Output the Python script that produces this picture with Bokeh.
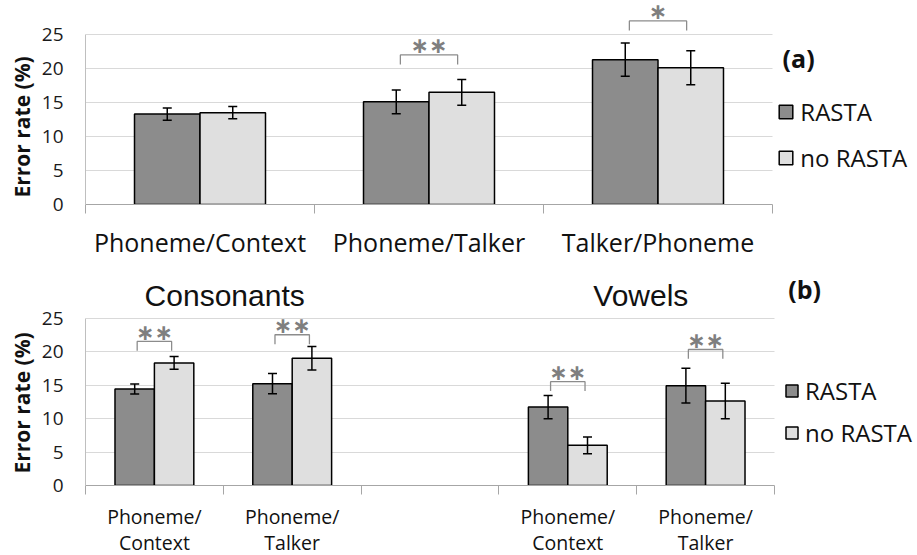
import math
from bokeh.plotting import figure
from bokeh.models import (ColumnDataSource, FixedTicker, Whisker, TeeHead, Legend,
                          LegendItem, LabelSet, Label, Range1d, Title)
from bokeh.layouts import column
from bokeh.core.properties import value
from bokeh.embed import file_html
from bokeh.resources import INLINE

nan = float("nan")

# ---------------- data ----------------
series = ["RASTA", "no RASTA"]
series_colors = ["#8c8c8c", "#dfdfdf"]

a_categories = ["Phoneme/Context", "Phoneme/Talker", "Talker/Phoneme"]
a_rasta = [13.3, 15.1, 21.3]
a_rasta_err = [0.9, 1.75, 2.45]
a_norasta = [13.5, 16.5, 20.1]
a_norasta_err = [0.9, 1.9, 2.5]
a_sig = ["", "∗∗", "∗"]
a_sig_y = [nan, 22.0, 27.0]

b_groups = ["Consonants", "Vowels"]
b_group_center = [1.01, 4.03]
b_categories = ["Phoneme/\nContext", "Phoneme/\nTalker", "", "Phoneme/\nContext", "Phoneme/\nTalker"]
b_rasta = [14.4, 15.2, nan, 11.7, 14.9]
b_rasta_err = [0.75, 1.5, nan, 1.75, 2.6]
b_norasta = [18.3, 19.0, nan, 6.0, 12.6]
b_norasta_err = [0.95, 1.75, nan, 1.25, 2.65]
b_sig = ["∗∗", "∗∗", "", "∗∗", "∗∗"]
b_sig_y = [21.5, 22.5, nan, 15.5, 20.3]

y_ticks = [0, 5, 10, 15, 20, 25]

BAR_W = 0.286
BR_HALF = 0.125
LEG = 1.4
FONT = "Open Sans"


def build(categories, rasta, rasta_err, norasta, norasta_err, sig, sig_y, *,
          x_end, y_end, frame_w, frame_h, mb, cat_font_size, cat_standoff, cat_line_height,
          legend_loc, glyph, legend_spacing, legend_font_size, ytitle_offset):
    n = len(categories)
    p = figure(x_range=Range1d(0, x_end), y_range=Range1d(0, y_end),
               frame_width=frame_w, frame_height=frame_h,
               min_border_left=mb[0], min_border_top=mb[1],
               min_border_right=mb[2], min_border_bottom=mb[3],
               output_backend="svg", toolbar_location=None)
    p.outline_line_color = None
    p.xgrid.visible = False

    renderers = []
    for k, (vals, errs) in enumerate([(rasta, rasta_err), (norasta, norasta_err)]):
        off = (k - 0.5) * BAR_W
        xs, tops, ups, lows = [], [], [], []
        for i, (v, e) in enumerate(zip(vals, errs)):
            if math.isnan(v):
                continue
            xs.append(i + 0.5 + off)
            tops.append(v)
            ups.append(v + e)
            lows.append(v - e)
        src = ColumnDataSource(dict(x=xs, top=tops, upper=ups, lower=lows))
        r = p.vbar(x="x", top="top", width=BAR_W, source=src,
                   fill_color=series_colors[k], line_color="black", line_width=1.5)
        renderers.append(r)
        w = Whisker(source=src, base="x", upper="upper", lower="lower",
                    level="annotation", line_color="black", line_width=1.5,
                    upper_head=TeeHead(size=9, line_color="black", line_width=1.5),
                    lower_head=TeeHead(size=9, line_color="black", line_width=1.5))
        p.add_layout(w)

    # significance brackets
    bxs, bys, sx, sy, st = [], [], [], [], []
    for i, (s, h) in enumerate(zip(sig, sig_y)):
        if not s:
            continue
        c = i + 0.5
        bxs.append([c - BR_HALF, c - BR_HALF, c + BR_HALF, c + BR_HALF])
        bys.append([h - LEG, h, h, h - LEG])
        sx.append(c)
        sy.append(h + LEG)
        st.append(s)
    p.multi_line(xs=bxs, ys=bys, line_color="#8c8c8c", line_width=1.3)
    ssrc = ColumnDataSource(dict(x=sx, y=sy, text=st))
    p.add_layout(LabelSet(source=ssrc, x="x", y="y", text="text",
                          text_align="center", text_baseline="middle",
                          text_font=value("DejaVu Sans"), text_font_style="bold",
                          text_font_size="22px", text_color="#7f7f7f"))

    # y axis
    p.yaxis.ticker = FixedTicker(ticks=y_ticks)
    p.yaxis.bounds = (y_ticks[0], y_ticks[-1])
    p.yaxis.major_tick_out = 0
    p.yaxis.major_tick_in = 0
    p.yaxis.minor_tick_out = 0
    p.yaxis.minor_tick_in = 0
    p.yaxis.axis_line_color = "#bfbfbf"
    p.yaxis.major_label_text_font = FONT
    p.yaxis.major_label_text_font_size = "19px"
    p.yaxis.major_label_text_color = "#1a1a1a"
    p.yaxis.major_label_standoff = 22
    p.add_layout(Title(text="Error rate (%)", align="left", offset=ytitle_offset,
                       text_font=FONT, text_font_style="bold", text_font_size="21px",
                       text_color="#111111", standoff=5), "left")

    # grid limited to the category span
    p.ygrid.ticker = FixedTicker(ticks=y_ticks[1:])
    p.ygrid.grid_line_color = "#d9d9d9"
    p.ygrid.grid_line_width = 1
    try:
        p.ygrid[0].cross_bounds = (0, n)
    except Exception:
        p.ygrid.visible = False
        p.segment(x0=[0] * (len(y_ticks) - 1), x1=[n] * (len(y_ticks) - 1),
                  y0=y_ticks[1:], y1=y_ticks[1:], line_color="#d9d9d9", line_width=1,
                  level="underlay")

    # x axis: labels at category centres, ticks at category boundaries
    centers = [i + 0.5 for i, c in enumerate(categories) if c]
    p.xaxis.ticker = FixedTicker(ticks=centers, minor_ticks=list(range(n + 1)))
    p.xaxis.bounds = (0, n)
    p.xaxis.major_label_overrides = {i + 0.5: c for i, c in enumerate(categories) if c}
    p.xaxis.major_tick_out = 0
    p.xaxis.major_tick_in = 0
    p.xaxis.minor_tick_out = 9
    p.xaxis.minor_tick_in = 0
    p.xaxis.minor_tick_line_color = "#a6a6a6"
    p.xaxis.axis_line_color = "#a6a6a6"
    p.xaxis.major_label_text_font = FONT
    p.xaxis.major_label_text_font_size = cat_font_size
    p.xaxis.major_label_text_color = "#111111"
    p.xaxis.major_label_text_line_height = cat_line_height
    p.xaxis.major_label_standoff = cat_standoff

    legend = Legend(items=[LegendItem(label=series[k], renderers=[renderers[k]]) for k in range(2)],
                    location=legend_loc, orientation="vertical",
                    glyph_width=glyph, glyph_height=glyph, label_height=glyph,
                    spacing=legend_spacing, padding=0, margin=0,
                    border_line_color=None, background_fill_alpha=0,
                    label_text_font=FONT, label_text_font_size=legend_font_size,
                    label_text_color="#111111", label_standoff=6)
    p.add_layout(legend)
    return p


pa = build(a_categories, a_rasta, a_rasta_err, a_norasta, a_norasta_err, a_sig, a_sig_y,
           x_end=3 * 834 / 687, y_end=204 / 6.8, frame_w=834, frame_h=204,
           mb=(83, 0, 0, 58), cat_font_size="25px", cat_standoff=11, cat_line_height=1.0,
           legend_loc=(695, 30), glyph=17, legend_spacing=13, legend_font_size="24px",
           ytitle_offset=7)
pa.add_layout(Label(x=3.044, y=21.6, text="(a)", text_font=FONT, text_font_style="bold",
                    text_font_size="25px", text_baseline="middle", text_color="#111111"))

pb = build(b_categories, b_rasta, b_rasta_err, b_norasta, b_norasta_err, b_sig, b_sig_y,
           x_end=5 * 832 / 689, y_end=223 / 6.7, frame_w=832, frame_h=223,
           mb=(85, 0, 0, 69), cat_font_size="19.5px", cat_standoff=8, cat_line_height=0.98,
           legend_loc=(699, 36), glyph=15, legend_spacing=9, legend_font_size="24px",
           ytitle_offset=12)
pb.add_layout(Label(x=5.1, y=29.3, text="(b)", text_font=FONT, text_font_style="bold",
                    text_font_size="25px", text_baseline="middle", text_color="#111111"))
for g, gx in zip(b_groups, b_group_center):
    pb.add_layout(Label(x=gx, y=28.36, text=g, text_font="Liberation Sans",
                        text_font_size="30px", text_align="center", text_baseline="middle",
                        text_color="#111111"))

layout = column(pa, pb, spacing=0)
open("out.html", "w").write(file_html(layout, INLINE))
